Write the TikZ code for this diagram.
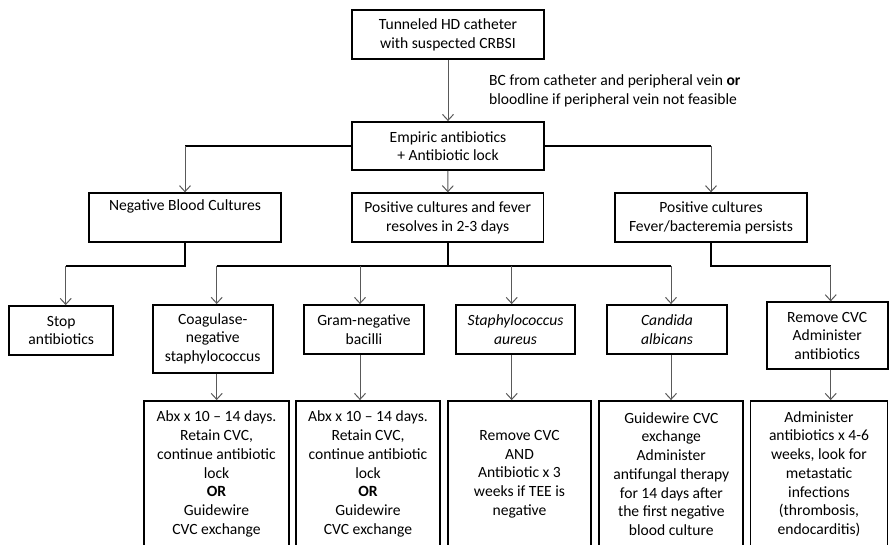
\documentclass[tikz,border=0pt]{standalone}
\usepackage{fontspec}
\setmainfont{Carlito}
\usetikzlibrary{arrows.meta}
\begin{document}
\begin{tikzpicture}[x=1pt,y=-1pt,
 txt/.style={font=\fontsize{15.6}{18.7}\selectfont},
 box/.style={txt,draw=black,line width=1.8pt,align=center,inner sep=0pt},
 arr/.style={draw=black!65,line width=1pt,-{Straight Barb[length=6pt,width=11pt]}},
 bar/.style={draw=black,line width=1.8pt},
]
\useasboundingbox (0,0) rectangle (889,545);
\clip (0,0) rectangle (889,545);
% level 1-2
\node[box,minimum width=192pt,minimum height=49pt] (top) at (448,34.5) {Tunneled HD catheter\\with suspected CRBSI};
\node[box,minimum width=192pt,minimum height=48pt] (emp) at (448,146) {Empiric antibiotics\\+ Antibiotic lock};
\node[txt,anchor=west,align=left,inner sep=0pt] (bc) at (489,91) {BC from catheter and peripheral vein \textbf{or}\\bloodline if peripheral vein not feasible};
% level 3
\node[box,minimum width=192pt,minimum height=48.5pt] (neg) at (185,217.5) {Negative Blood Cultures\\\strut};
\node[box,minimum width=191.5pt,minimum height=48.5pt] (mid) at (447.7,217.5) {Positive cultures and fever\\resolves in 2-3 days};
\node[box,minimum width=192pt,minimum height=48.5pt] (right) at (711,217.5) {Positive cultures\\Fever/bacteremia persists};
% level 4
\node[box,minimum width=104pt,minimum height=49pt] (stop) at (61.3,330.5) {Stop\\antibiotics};
\node[box,minimum width=120pt,minimum height=67.7pt] (coag) at (212.7,338.8) {Coagulase-\\negative\\staphylococcus};
\node[box,minimum width=120pt,minimum height=49pt] (gram) at (364,329.5) {Gram-negative\\bacilli};
\node[box,minimum width=119pt,minimum height=49pt] (staph) at (515.5,329.5) {\textit{Staphylococcus}\\\textit{aureus}};
\node[box,minimum width=120.6pt,minimum height=49pt] (cand) at (667,329.5) {\textit{Candida}\\\textit{albicans}};
\node[box,minimum width=121pt,minimum height=67pt] (remcvc) at (827.2,335.8) {Remove CVC\\Administer\\antibiotics};
% level 5
\node[box,minimum width=144.3pt,minimum height=146pt] (b1) at (216.5,474) {Abx x 10 – 14 days.\\Retain CVC,\\continue antibiotic\\lock\\\textbf{OR}\\Guidewire\\CVC exchange};
\node[box,minimum width=144pt,minimum height=146pt] (b2) at (368,474) {Abx x 10 – 14 days.\\Retain CVC,\\continue antibiotic\\lock\\\textbf{OR}\\Guidewire\\CVC exchange};
\node[box,minimum width=142.4pt,minimum height=146pt] (b3) at (519.5,474) {Remove CVC\\AND\\Antibiotic x 3\\weeks if TEE is\\negative};
\node[box,minimum width=144pt,minimum height=146pt] (b4) at (671.3,474) {Guidewire CVC\\exchange\\Administer\\antifungal therapy\\for 14 days after\\the first negative\\blood culture};
\node[box,minimum width=137pt,minimum height=146pt] (b5) at (819,474) {Administer\\antibiotics x 4-6\\weeks, look for\\metastatic\\infections\\(thrombosis,\\endocarditis)};
% connectors
\draw[arr] (top) -- (emp);
\draw[arr] (emp) -- (mid);
\draw[bar] (emp.west) -- (emp.west -| neg.north);
\draw[arr] (emp.west -| neg.north) -- (neg.north);
\draw[bar] (emp.east) -- (emp.east -| right.north);
\draw[arr] (emp.east -| right.north) -- (right.north);
\coordinate (j0) at (65.7,266);
\coordinate (ja) at (216.7,266);
\coordinate (jb) at (360,266);
\coordinate (jc) at (511.7,266);
\coordinate (jd) at (671,266);
\coordinate (je) at (830.7,266);
\draw[bar] (neg.south) |- (j0);
\draw[arr] (j0) -- (stop.north -| j0);
\draw[bar] (mid.south) -- (mid.south |- ja);
\draw[bar] (ja) -- (jd);
\draw[arr] (ja) -- (coag.north -| ja);
\draw[arr] (jb) -- (gram.north -| jb);
\draw[arr] (jc) -- (staph.north -| jc);
\draw[arr] (jd) -- (cand.north -| jd);
\draw[bar] (right.south) |- (je);
\draw[arr] (je) -- (remcvc.north -| je);
\draw[arr] (coag.south -| ja) -- (b1.north -| ja);
\draw[arr] (gram.south -| jb) -- (b2.north -| jb);
\draw[arr] (staph.south -| jc) -- (b3.north -| jc);
\draw[arr] (cand.south -| jd) -- (b4.north -| jd);
\draw[arr] (remcvc.south -| je) -- (b5.north -| je);
\end{tikzpicture}
\end{document}
